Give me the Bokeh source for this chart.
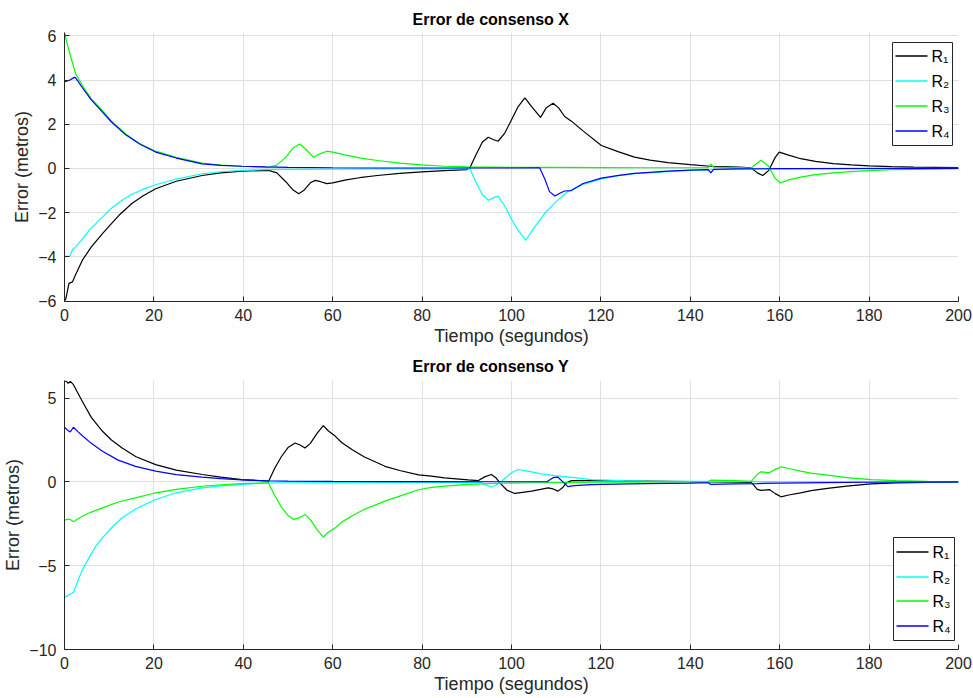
from bokeh.plotting import figure
from bokeh.layouts import column
from bokeh.models import Range1d, FixedTicker, BoxAnnotation, Label, Arrow
from bokeh.embed import file_html
from bokeh.resources import INLINE

# ---------------- data ----------------
x_ticks = [0, 20, 40, 60, 80, 100, 120, 140, 160, 180, 200]
yx_ticks = [-6, -4, -2, 0, 2, 4, 6]
yy_ticks = [-10, -5, 0, 5]
series_labels = ["R\u2081", "R\u2082", "R\u2083", "R\u2084"]
series_colors = ["#000000", "#00ffff", "#00ff00", "#0000ff"]

# Error X
tx_r1 = [0, 0.3, 1.0, 1.8, 2.5, 4, 6, 8.5, 10.5, 12.2, 15, 17.5, 20.4, 25, 30.8, 35, 39.7, 45.7, 47.5, 49.5,
         51, 52.4, 53.5, 55, 56.1, 57.3, 58.7, 60, 63, 66, 70, 75, 80, 85, 90, 90.7, 92, 93.5, 94.8, 96,
         97, 98.5, 100, 101.5, 103, 104.5, 106.5, 107.8, 109.3, 110.5, 111.9, 113.4, 116, 120.1, 124,
         127.5, 131, 135, 140, 144.5, 148, 151, 153.6, 155, 156.2, 157.5, 159, 159.9, 162, 164.7,
         168, 172, 176, 180, 185, 190, 195, 200]
ex_r1 = [-6.0, -5.9, -5.2, -5.13, -4.8, -4.15, -3.55, -2.95, -2.5, -2.12, -1.6, -1.25, -0.92, -0.58, -0.32,
         -0.2, -0.12, -0.09, -0.2, -0.6, -0.95, -1.14, -1.0, -0.65, -0.54, -0.6, -0.69, -0.65, -0.52, -0.42,
         -0.32, -0.22, -0.16, -0.1, -0.05, 0.03, 0.6, 1.2, 1.41, 1.3, 1.23, 1.6, 2.2, 2.8, 3.19, 2.8, 2.31,
         2.75, 2.95, 2.75, 2.35, 2.14, 1.7, 1.04, 0.75, 0.51, 0.38, 0.26, 0.17, 0.1, 0.08, 0.06, 0.03,
         -0.2, -0.32, -0.1, 0.5, 0.74, 0.6, 0.44, 0.32, 0.22, 0.16, 0.12, 0.08, 0.06, 0.05, 0.04]

tx_r2 = [0, 0.5, 1.2, 1.8, 2.5, 4, 5.5, 8.5, 10.5, 12.9, 15, 17.5, 20.4, 25, 30.8, 35, 39.7, 45, 50, 60,
         70, 80, 90, 90.7, 92, 93.5, 94.9, 96, 97, 98.5, 100, 101.5, 103.2, 105, 107.4, 110, 112.6, 116,
         120.1, 124, 127.5, 135, 140, 144.5, 150, 160, 170, 200]
ex_r2 = [-3.97, -3.98, -3.97, -3.67, -3.55, -3.2, -2.8, -2.2, -1.8, -1.44, -1.18, -0.95, -0.74, -0.48, -0.24,
         -0.15, -0.09, -0.05, -0.04, -0.03, -0.02, -0.02, -0.01, 0.0, -0.6, -1.2, -1.44, -1.32, -1.25, -1.7,
         -2.3, -2.8, -3.25, -2.7, -2.04, -1.5, -1.04, -0.72, -0.47, -0.33, -0.24, -0.14, -0.09, -0.06,
         -0.03, -0.02, -0.01, 0.0]

tx_r3 = [0, 0.5, 1.2, 2.5, 4, 6, 8.5, 10.5, 13.7, 17, 20.4, 25, 30.8, 35, 39.7, 45.7, 47.5, 49.5, 51, 52.6,
         53.8, 55.7, 57, 58.7, 60, 63, 66, 70, 75, 80, 85, 90, 95, 100, 110, 120, 130, 140, 144, 144.6,
         145.2, 150, 153.6, 155.8, 157.5, 159, 160.2, 162, 164.7, 168, 172, 176, 180, 185, 190, 200]
ex_r3 = [6.15, 5.7, 5.2, 4.27, 3.75, 3.15, 2.62, 2.15, 1.56, 1.1, 0.78, 0.5, 0.24, 0.15, 0.1, 0.05, 0.15,
         0.5, 0.9, 1.11, 0.9, 0.51, 0.65, 0.78, 0.74, 0.6, 0.48, 0.36, 0.24, 0.16, 0.1, 0.07, 0.06, 0.05,
         0.05, 0.04, 0.03, 0.03, 0.04, 0.2, 0.06, 0.05, 0.02, 0.37, 0.1, -0.45, -0.66, -0.52, -0.39,
         -0.28, -0.2, -0.14, -0.1, -0.06, -0.04, -0.01]

tx_r4 = [0, 0.5, 1.2, 2.2, 2.5, 4, 6, 8.5, 10.5, 13.7, 17, 20.4, 25, 30.8, 35, 39.7, 45, 50, 60, 70,
         80, 90, 100, 106.3, 107.5, 108.5, 109.7, 110.8, 111.9, 113.4, 116, 120.1, 124, 127.5, 135, 140,
         144, 144.6, 145.2, 150, 160, 200]
ex_r4 = [3.92, 3.95, 4.0, 4.12, 4.1, 3.65, 3.1, 2.55, 2.1, 1.52, 1.08, 0.74, 0.47, 0.21, 0.14, 0.1, 0.07,
         0.05, 0.03, 0.02, 0.02, 0.02, 0.02, 0.03, -0.5, -1.05, -1.25, -1.12, -1.02, -1.0, -0.68, -0.44,
         -0.31, -0.22, -0.12, -0.08, -0.05, -0.2, -0.04, -0.02, -0.01, 0.0]

# Error Y
ty_r1 = [0, 0.4, 0.8, 1.3, 2, 4, 6, 8.5, 10.5, 12.9, 16, 20.4, 25, 30.8, 35, 39.7, 45.7, 47, 48.5, 50,
         51.6, 52.7, 53.8, 55, 56.5, 57.9, 59, 60.6, 62, 64.3, 67, 71.7, 75, 79.2, 82.1, 85, 90.3, 92.6,
         94, 95.5, 96.5, 97.4, 99, 100.7, 102.5, 104.5, 106.5, 108.2, 109.3, 110.4, 111.4, 112.3, 113.4,
         118, 125, 135, 145, 150, 153.7, 155, 155.8, 157.7, 159, 160.3, 162, 164.7, 167, 170.7, 175,
         180.4, 186, 193, 200]
ey_r1 = [6.0, 6.02, 5.88, 6.0, 5.8, 4.8, 3.85, 3.02, 2.5, 2.02, 1.5, 1.03, 0.7, 0.44, 0.28, 0.14, 0.05,
         0.8, 1.5, 2.05, 2.32, 2.2, 2.02, 2.3, 2.9, 3.36, 3.05, 2.72, 2.35, 1.93, 1.5, 0.93, 0.68, 0.42,
         0.34, 0.24, 0.12, 0.08, 0.3, 0.44, 0.25, -0.06, -0.5, -0.69, -0.62, -0.55, -0.45, -0.36, -0.42,
         -0.55, -0.35, -0.06, 0.08, 0.08, 0.06, 0.03, 0.0, -0.02, -0.04, -0.45, -0.51, -0.46, -0.7, -0.89,
         -0.78, -0.65, -0.52, -0.39, -0.25, -0.12, -0.06, -0.03, -0.01]

ty_r2 = [0, 0.6, 1.4, 2, 3, 4, 5.5, 7, 8.5, 10.5, 12.9, 16, 20.4, 25, 30.8, 35, 39.7, 45.7, 50, 60,
         70, 80, 90, 93.3, 95.5, 96.5, 97.8, 100, 101.5, 103.6, 106.7, 110, 112.6, 117.9, 125, 130,
         140, 150, 160, 200]
ey_r2 = [-6.9, -6.8, -6.67, -6.6, -5.9, -5.25, -4.52, -3.85, -3.33, -2.75, -2.14, -1.6, -1.05, -0.65,
         -0.36, -0.24, -0.15, -0.06, -0.05, -0.04, -0.03, -0.03, -0.02, -0.06, -0.32, -0.2, 0.04, 0.55,
         0.74, 0.64, 0.48, 0.36, 0.3, 0.14, 0.08, 0.05, 0.03, 0.02, 0.01, 0.0]

ty_r3 = [0, 0.6, 1.3, 2.0, 3, 4, 6, 8.5, 12, 15.9, 20.4, 25, 30.8, 35, 39.7, 45.6, 47, 48.5, 50, 51.3,
         52.5, 53.8, 55, 56.5, 57.9, 59, 60.6, 62, 64.3, 67, 71.7, 75, 79.2, 82.1, 85, 90.3, 97.8, 105,
         120, 140, 144, 144.6, 150, 153.7, 155, 155.8, 157.7, 159, 160.4, 162, 164.7, 167, 170.7, 175,
         180.4, 186, 193, 200]
ey_r3 = [-2.3, -2.22, -2.25, -2.38, -2.2, -2.05, -1.8, -1.55, -1.2, -0.95, -0.65, -0.45, -0.26, -0.17,
         -0.1, -0.05, -0.8, -1.5, -2.0, -2.24, -2.15, -1.94, -2.25, -2.85, -3.29, -3.0, -2.74, -2.4, -2.04,
         -1.65, -1.15, -0.85, -0.47, -0.33, -0.25, -0.15, -0.08, -0.05, -0.02, 0.0, 0.02, 0.1, 0.08, 0.04,
         0.45, 0.6, 0.54, 0.75, 0.9, 0.8, 0.64, 0.52, 0.4, 0.26, 0.14, 0.08, 0.04, 0.01]

ty_r4 = [0, 0.6, 1.3, 2.0, 3, 4, 6, 8.5, 12, 15.9, 20.4, 25, 30.8, 35, 39.7, 45, 50, 60, 80, 100,
         108, 109.3, 110.4, 111.5, 112.6, 114, 117.9, 120, 130, 140, 144, 144.6, 150, 155, 160, 170,
         180, 200]
ey_r4 = [3.26, 3.1, 2.98, 3.26, 3.0, 2.75, 2.3, 1.83, 1.3, 0.93, 0.64, 0.43, 0.28, 0.19, 0.12, 0.07,
         0.05, 0.03, 0.02, 0.01, 0.02, 0.25, 0.28, 0.0, -0.28, -0.22, -0.16, -0.15, -0.1, -0.07, -0.05,
         -0.15, -0.12, -0.1, -0.07, -0.04, -0.02, 0.0]

# ---------------- styling ----------------
FONT = "Liberation Sans"
TXT = "#262626"
GRID = "#dfdfdf"


def add_legend(p, box_lrtb, row_ys):
    # legend drawn as annotations in frame-relative screen units
    left, right, top, bottom = box_lrtb
    p.add_layout(BoxAnnotation(left=left, right=right, top=top, bottom=bottom,
                               left_units="screen", right_units="screen",
                               top_units="screen", bottom_units="screen",
                               fill_color="white", fill_alpha=1.0,
                               line_color=TXT, line_width=1, line_alpha=1.0))
    for lab, col, y in zip(series_labels, series_colors, row_ys):
        p.add_layout(Arrow(x_start=left + 3, x_end=left + 35, y_start=y, y_end=y,
                           start_units="screen", end_units="screen", end=None,
                           line_color=col, line_width=1.3))
        p.add_layout(Label(x=left + 39, y=y, x_units="screen", y_units="screen", text=lab,
                           text_font=FONT, text_font_size="16px", text_color="#000000",
                           text_baseline="middle", text_align="left"))


def make_fig(title, ylim, yticks, series, height, min_top, min_bottom, title_standoff):
    p = figure(width=973, height=height,
               x_range=Range1d(0, 200), y_range=Range1d(*ylim),
               output_backend="svg", toolbar_location=None,
               min_border_left=62, min_border_right=15,
               min_border_top=min_top, min_border_bottom=min_bottom)
    p.outline_line_color = None
    p.background_fill_color = "white"
    p.border_fill_color = "white"

    p.title.text = title
    p.title.text_font = FONT
    p.title.text_font_size = "16px"
    p.title.text_font_style = "bold"
    p.title.text_color = "#000000"
    p.title.align = "left"
    p.title.offset = 348
    p.title.standoff = title_standoff

    p.xaxis.ticker = FixedTicker(ticks=x_ticks)
    p.yaxis.ticker = FixedTicker(ticks=yticks)
    for ax in (p.xaxis, p.yaxis):
        ax.axis_line_color = TXT
        ax.axis_line_width = 1
        ax.major_tick_line_color = TXT
        ax.major_tick_in = 5
        ax.major_tick_out = 0
        ax.minor_tick_line_color = None
        ax.major_label_text_font = FONT
        ax.major_label_text_font_size = "16px"
        ax.major_label_text_color = TXT
        ax.axis_label_text_font = FONT
        ax.axis_label_text_font_size = "18px"
        ax.axis_label_text_font_style = "normal"
        ax.axis_label_text_color = TXT
    p.xaxis.axis_label = "Tiempo (segundos)"
    p.yaxis.axis_label = "Error (metros)"
    p.xaxis.major_label_standoff = 7
    p.yaxis.major_label_standoff = 8
    p.xaxis.axis_label_standoff = 2
    p.yaxis.axis_label_standoff = 3

    p.xgrid.grid_line_color = GRID
    p.ygrid.grid_line_color = GRID

    for (t, v), col in zip(series, series_colors):
        p.line(t, v, line_color=col, line_width=1.2)
    return p


p1 = make_fig("Error de consenso X", (-6.02, 6.15), yx_ticks,
              [(tx_r1, ex_r1), (tx_r2, ex_r2), (tx_r3, ex_r3), (tx_r4, ex_r4)],
              349, 32, 48, 9)
add_legend(p1, (828, 888, 259, 156), [245.5, 220.5, 195.5, 170.5])

p2 = make_fig("Error de consenso Y", (-10, 6.05), yy_ticks,
              [(ty_r1, ey_r1), (ty_r2, ey_r2), (ty_r3, ey_r3), (ty_r4, ey_r4)],
              349, 31, 49, 12)
add_legend(p2, (829, 890, 112, 9), [97.5, 72.5, 48.5, 23.5])

layout = column(p1, p2, spacing=0)

open("out.html", "w").write(file_html(layout, INLINE))
